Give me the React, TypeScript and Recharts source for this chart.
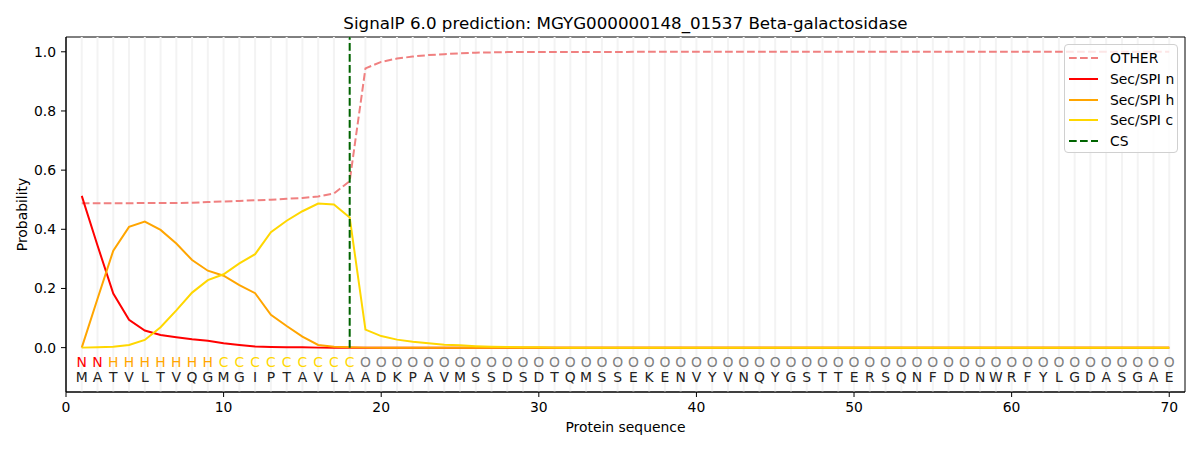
import React from "react";
import {
  ComposedChart,
  Line,
  Scatter,
  XAxis,
  YAxis,
  ReferenceLine,
  ReferenceArea,
  Label,
} from "recharts";

const FONT = "'DejaVu Sans', sans-serif";

// Sequence and per-residue SignalP region calls
const residues = "MATVLTVQGMGIPTAVLAADKPAVMSSDSDTQMSSEKENVYVNQYGSTTERSQNFDDNWRFYLGDASGAE".split("");
const regions = ("NN" + "HHHHHHH" + "CCCCCCCCC" + "O".repeat(52)).split("");

// Probabilities, residues 1..70
const otherProb = [
  0.488, 0.488, 0.488, 0.488, 0.489, 0.489, 0.489, 0.49, 0.492, 0.494,
  0.496, 0.498, 0.5, 0.503, 0.506, 0.511, 0.521, 0.563, 0.944, 0.966,
  0.977, 0.984, 0.989, 0.992, 0.995, 0.997, 0.998, 0.999, 0.999, 0.999,
  0.999, 0.999, 0.999, 0.999, 0.999, 1, 1, 1, 1, 1,
  1, 1, 1, 1, 1, 1, 1, 1, 1, 1,
  1, 1, 1, 1, 1, 1, 1, 1, 1, 1,
  1, 1, 1, 1, 1, 1, 1, 1, 1, 1,
];
const nProb = [
  0.513, 0.345, 0.183, 0.094, 0.058, 0.043, 0.035, 0.028, 0.023, 0.015,
  0.009, 0.004, 0.002, 0.001, 0.001, 0, 0, 0, 0, 0,
  0, 0, 0, 0, 0, 0, 0, 0, 0, 0,
  0, 0, 0, 0, 0, 0, 0, 0, 0, 0,
  0, 0, 0, 0, 0, 0, 0, 0, 0, 0,
  0, 0, 0, 0, 0, 0, 0, 0, 0, 0,
  0, 0, 0, 0, 0, 0, 0, 0, 0, 0,
];
const hProb = [
  0, 0.165, 0.328, 0.408, 0.426, 0.398, 0.352, 0.296, 0.26, 0.243,
  0.211, 0.184, 0.111, 0.073, 0.037, 0.009, 0.003, 0.001, 0, 0,
  0, 0, 0, 0, 0, 0, 0, 0, 0, 0,
  0, 0, 0, 0, 0, 0, 0, 0, 0, 0,
  0, 0, 0, 0, 0, 0, 0, 0, 0, 0,
  0, 0, 0, 0, 0, 0, 0, 0, 0, 0,
  0, 0, 0, 0, 0, 0, 0, 0, 0, 0,
];
const cProb = [
  0, 0.001, 0.003, 0.009, 0.026, 0.069, 0.126, 0.186, 0.228, 0.248,
  0.285, 0.316, 0.39, 0.429, 0.461, 0.487, 0.484, 0.44, 0.061, 0.039,
  0.027, 0.02, 0.015, 0.01, 0.008, 0.005, 0.003, 0.002, 0.001, 0.001,
  0, 0, 0, 0, 0, 0, 0, 0, 0, 0,
  0, 0, 0, 0, 0, 0, 0, 0, 0, 0,
  0, 0, 0, 0, 0, 0, 0, 0, 0, 0,
  0, 0, 0, 0, 0, 0, 0, 0, 0, 0,
];

const cleavageSite = 18;
const xTicks = [0, 10, 20, 30, 40, 50, 60, 70];
const yTicks = [0, 0.2, 0.4, 0.6, 0.8, 1.0];

const COLORS = {
  other: "#f08080",
  n: "#ff0000",
  h: "#ffa500",
  c: "#ffd700",
  cs: "#006400",
};
const regionColor: Record<string, string> = {
  N: COLORS.n,
  H: COLORS.h,
  C: COLORS.c,
  O: "#808080",
};

const X_DOMAIN: [number, number] = [0, 71];
const Y_DOMAIN: [number, number] = [-0.15, 1.05];
const REGION_Y = -0.05;
const RESIDUE_Y = -0.1;

const rows = residues.map((aa, i) => ({
  pos: i + 1,
  other: otherProb[i],
  n: nProb[i],
  h: hProb[i],
  c: cProb[i],
}));
const regionRows = regions.map((r, i) => ({ pos: i + 1, y: REGION_Y, text: r }));
const residueRows = residues.map((aa, i) => ({ pos: i + 1, y: RESIDUE_Y, text: aa }));

function letterShape(colorOf: (t: string) => string) {
  return (p: any) => (
    <text
      x={p.cx}
      y={p.cy}
      textAnchor="middle"
      dominantBaseline="central"
      fontSize={13.9}
      fontFamily={FONT}
      fill={colorOf(p.payload.text)}
    >
      {p.payload.text}
    </text>
  );
}

const legendItems = [
  { label: "OTHER", color: COLORS.other, dash: true },
  { label: "Sec/SPI n", color: COLORS.n, dash: false },
  { label: "Sec/SPI h", color: COLORS.h, dash: false },
  { label: "Sec/SPI c", color: COLORS.c, dash: false },
  { label: "CS", color: COLORS.cs, dash: true },
];

export default function App() {
  const tickStyle = { fill: "#000", fontSize: 13.9, fontFamily: FONT };
  return (
    <div style={{ position: "relative", width: 1200, height: 450, fontFamily: FONT, background: "#fff" }}>
      <style>{"body{margin:0}"}</style>
      <div
        style={{
          position: "absolute",
          left: 66,
          width: 1119,
          top: 12,
          lineHeight: "22px",
          fontSize: 16.7,
          textAlign: "center",
          color: "#000",
        }}
      >
        SignalP 6.0 prediction: MGYG000000148_01537 Beta-galactosidase
      </div>
      <ComposedChart
        width={1200}
        height={450}
        data={rows}
        margin={{ top: 37, right: 15, bottom: 0, left: 0 }}
      >
        {rows.map((r) => (
          <ReferenceLine key={"g" + r.pos} x={r.pos} stroke="#f3f3f3" strokeWidth={2} />
        ))}
        <XAxis
          type="number"
          dataKey="pos"
          domain={X_DOMAIN}
          ticks={xTicks}
          allowDataOverflow
          height={58}
          stroke="#000"
          tickSize={5}
          tickMargin={5}
          tick={tickStyle}
        >
          <Label
            value="Protein sequence"
            position="insideBottom"
            offset={18}
            style={{ fill: "#000", fontSize: 13.9, fontFamily: FONT }}
          />
        </XAxis>
        <YAxis
          type="number"
          domain={Y_DOMAIN}
          ticks={yTicks}
          allowDataOverflow
          width={66}
          stroke="#000"
          tickSize={5}
          tickMargin={5}
          tick={tickStyle}
          tickFormatter={(v: number) => v.toFixed(1)}
        >
          <Label
            content={(props: any) => {
              const vb = props.viewBox || { x: 0, y: 37, width: 66, height: 355 };
              const cx = vb.x + 22;
              const cy = vb.y + vb.height / 2;
              return (
                <text
                  x={cx}
                  y={cy}
                  transform={`rotate(-90, ${cx}, ${cy})`}
                  textAnchor="middle"
                  dominantBaseline="central"
                  fontSize={13.9}
                  fontFamily={FONT}
                  fill="#000"
                >
                  Probability
                </text>
              );
            }}
          />
        </YAxis>
        <ReferenceArea
          x1={X_DOMAIN[0]}
          x2={X_DOMAIN[1]}
          y1={Y_DOMAIN[0]}
          y2={Y_DOMAIN[1]}
          fill="none"
          stroke="#000"
          strokeWidth={1}
        />
        <Line
          dataKey="other"
          stroke={COLORS.other}
          strokeWidth={2}
          strokeDasharray="7.7 3.3"
          dot={false}
          isAnimationActive={false}
        />
        <Line dataKey="n" stroke={COLORS.n} strokeWidth={2} dot={false} isAnimationActive={false} />
        <Line dataKey="h" stroke={COLORS.h} strokeWidth={2} dot={false} isAnimationActive={false} />
        <Line dataKey="c" stroke={COLORS.c} strokeWidth={2} dot={false} isAnimationActive={false} />
        <ReferenceLine
          segment={[
            { x: cleavageSite, y: 0 },
            { x: cleavageSite, y: Y_DOMAIN[1] },
          ]}
          stroke={COLORS.cs}
          strokeWidth={2}
          strokeDasharray="7.7 3.3"
        />
        <Scatter
          data={regionRows}
          dataKey="y"
          isAnimationActive={false}
          shape={letterShape((t) => regionColor[t])}
        />
        <Scatter
          data={residueRows}
          dataKey="y"
          isAnimationActive={false}
          shape={letterShape(() => "#222")}
        />
      </ComposedChart>
      <div
        style={{
          position: "absolute",
          left: 1064,
          top: 44,
          width: 114,
          height: 109,
          boxSizing: "border-box",
          border: "1px solid #d0d0d0",
          borderRadius: 4,
          background: "rgba(255,255,255,0.8)",
        }}
      >
        {legendItems.map((it, i) => (
          <div
            key={it.label}
            style={{
              position: "absolute",
              left: 0,
              top: 3 + i * 20.8,
              height: 20,
              width: 112,
              display: "flex",
              alignItems: "center",
            }}
          >
            <svg width={45} height={20} style={{ flex: "none" }}>
              <line
                x1={4}
                x2={33}
                y1={10}
                y2={10}
                stroke={it.color}
                strokeWidth={2}
                strokeDasharray={it.dash ? "7.7 3.3" : undefined}
              />
            </svg>
            <span style={{ fontSize: 13.9, color: "#000", lineHeight: "20px" }}>{it.label}</span>
          </div>
        ))}
      </div>
    </div>
  );
}
